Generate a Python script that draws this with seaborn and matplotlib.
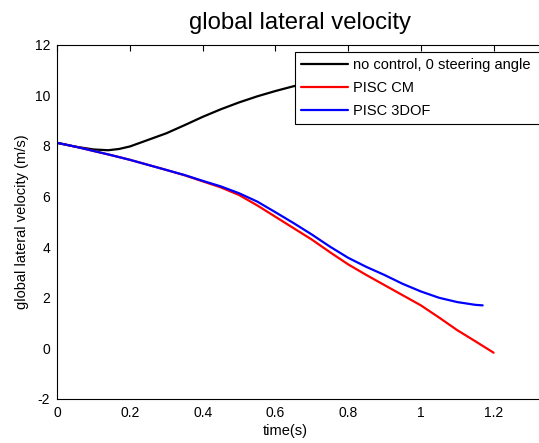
import matplotlib
matplotlib.use("Agg")
import matplotlib.pyplot as plt
import numpy as np
import pandas as pd
import seaborn as sns

# values
t_nocontrol = [0, 0.05, 0.1, 0.14, 0.17, 0.2, 0.25, 0.3, 0.35, 0.4, 0.45, 0.5, 0.55, 0.6, 0.65,
               0.7, 0.8, 0.9, 1.0, 1.1, 1.2]
v_nocontrol = [8.12, 7.97, 7.86, 7.83, 7.88, 7.98, 8.24, 8.5, 8.82, 9.15, 9.45, 9.72, 9.96, 10.17, 10.36,
               10.52, 10.8, 11.0, 11.15, 11.25, 11.3]

t_cm = [0, 0.05, 0.1, 0.15, 0.2, 0.25, 0.3, 0.35, 0.4, 0.45, 0.5, 0.55, 0.6, 0.65,
        0.7, 0.75, 0.8, 0.85, 0.9, 0.95, 1.0, 1.05, 1.1, 1.15, 1.2]
v_cm = [8.12, 7.97, 7.8, 7.63, 7.45, 7.25, 7.05, 6.84, 6.6, 6.36, 6.06, 5.65, 5.2, 4.75,
        4.3, 3.8, 3.32, 2.9, 2.5, 2.1, 1.7, 1.22, 0.72, 0.28, -0.17]

t_3dof = [0, 0.05, 0.1, 0.15, 0.2, 0.25, 0.3, 0.35, 0.4, 0.45, 0.5, 0.55, 0.6, 0.65,
          0.7, 0.75, 0.8, 0.85, 0.9, 0.95, 1.0, 1.05, 1.1, 1.15, 1.17]
v_3dof = [8.12, 7.97, 7.8, 7.63, 7.45, 7.25, 7.05, 6.85, 6.62, 6.4, 6.13, 5.8, 5.38, 4.95,
          4.5, 4.02, 3.58, 3.22, 2.9, 2.55, 2.25, 2.0, 1.83, 1.72, 1.7]

labels = ["no control, 0 steering angle", "PISC CM", "PISC 3DOF"]
colors = ["black", "red", "blue"]

sns.set_style("white")
plt.rcParams["font.family"] = ["Liberation Sans", "DejaVu Sans"]
plt.rcParams["axes.unicode_minus"] = False
plt.rcParams["text.color"] = "black"
plt.rcParams["axes.labelcolor"] = "black"

fig = plt.figure(figsize=(5.39, 4.43), dpi=100)
# axes are partly cut off on the right like in the reference
ax_w = 509
ax = fig.add_axes([57.3 / 539, 44 / 443, ax_w / 539, 354.3 / 443])

series = [(t_nocontrol, v_nocontrol), (t_cm, v_cm), (t_3dof, v_3dof)]
for (t, v), lab, col in zip(series, labels, colors):
    sns.lineplot(x=t, y=v, ax=ax, color=col, linewidth=1.6, label=lab)

ax.set_xlim(0, 1.4)
ax.set_ylim(-2, 12)
ax.set_xticks([0, 0.2, 0.4, 0.6, 0.8, 1, 1.2])
ax.set_xticklabels(["0", "0.2", "0.4", "0.6", "0.8", "1", "1.2"])
ax.set_yticks(np.arange(-2, 13, 2))
ax.tick_params(direction="in", length=4, width=0.8, top=True, right=True,
               labelsize=10, colors="black", pad=5)
for s in ax.spines.values():
    s.set_color("black")
    s.set_linewidth(0.8)

ax.set_xlabel("time(s)", fontsize=10.5)
ax.xaxis.set_label_coords((285 - 57.3) / ax_w, -0.07)
ax.set_ylabel("global lateral velocity (m/s)", fontsize=10.5, labelpad=4)
ax.set_title("global lateral velocity", fontsize=17.2, x=(300 - 57.3) / ax_w, pad=11,
             color="black")

# legend box runs past the right edge of the picture
leg_x0 = (295 - 57.3) / ax_w
leg_y1 = (399 - 52) / 354.3
leg = ax.legend(loc="upper left", bbox_to_anchor=(leg_x0, leg_y1 - 0.3, (620 - 295) / ax_w, 0.3),
                mode="expand", fontsize=10.5, frameon=True, fancybox=False, framealpha=1,
                edgecolor="black", handlelength=3.2, handletextpad=0.35,
                labelspacing=0.62, borderpad=0.4, borderaxespad=0)
leg.get_frame().set_linewidth(0.8)

fig.savefig("out.png", dpi=100)
